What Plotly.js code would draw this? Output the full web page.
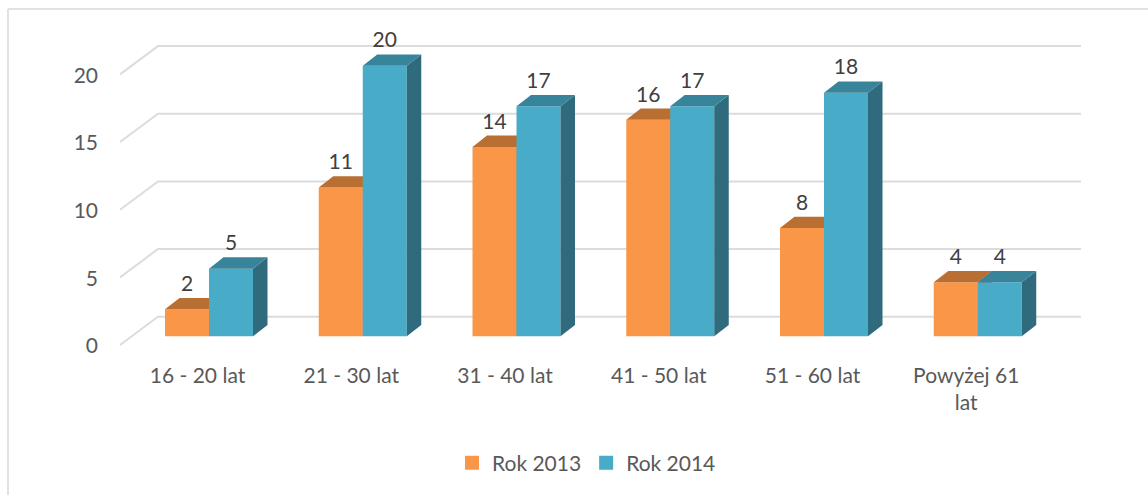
<!DOCTYPE html>
<html><head><meta charset="utf-8">
<script src="https://cdn.plot.ly/plotly-3.0.1.min.js"></script>
<style>html,body{margin:0;padding:0;background:#fff}#c{width:1148px;height:495px}</style>
</head><body><div id="c"></div>
<script>
const categories = ["16 - 20 lat","21 - 30 lat","31 - 40 lat","41 - 50 lat","51 - 60 lat","Powyżej 61<br>lat"];
const rok2013 = [2,11,14,16,8,4];
const rok2014 = [5,20,17,17,18,4];
const gridValues = [0,5,10,15,20];
const nameA = "Rok 2013", nameB = "Rok 2014";

const W=1148,H=495, L=99,R=1100,T=20,B=361;
const pxX=153.75, pxY=13.53, cx0=209, y0=336.3;
const xOf=p=>(p-cx0)/pxX, yOf=p=>(y0-p)/pxY;
const barW=44/pxX, dx=14.5/pxX, dy=11.3/pxY;
const wallDy=yOf(316.7), frontDy=yOf(345), tickDy=yOf(345.8);
const idx=categories.map((_,i)=>i);
const font="Lato, Carlito, sans-serif";
const fs=21;

function topPoly(vals,off){const x=[],y=[];vals.forEach((v,i)=>{const a=i+off,b=a+barW;
  x.push(a,b,b+dx,a+dx,a,null);y.push(v,v,v+dy,v+dy,v,null);});return{x,y};}
function sidePoly(vals,off){const x=[],y=[];vals.forEach((v,i)=>{const b=i+off+barW;
  x.push(b,b+dx,b+dx,b,b,null);y.push(0,dy,v+dy,v,0,null);});return{x,y};}
function face(p,color,z){return{type:"scatter",mode:"lines",x:p.x,y:p.y,fill:"toself",fillcolor:color,
  line:{width:0,color:color},hoverinfo:"skip",showlegend:false,zorder:z};}

const gx=[],gy=[];
gridValues.forEach(v=>{gx.push(xOf(120),xOf(158),xOf(1081),null);gy.push(v+frontDy,v+wallDy,v+wallDy,null);});

const traces=[
 {type:"scatter",mode:"lines",x:gx,y:gy,line:{color:"#dcdcdc",width:2},hoverinfo:"skip",showlegend:false,zorder:0},
 face(sidePoly(rok2013,-barW),"#a85f28",1),
 face(topPoly(rok2013,-barW),"#b96f32",1),
 {type:"bar",x:idx,y:rok2013,width:barW,offset:-barW,marker:{color:"#fa9648",line:{width:0}},showlegend:false,zorder:1,name:nameA},
 face(sidePoly(rok2014,0),"#2f6b7c",2),
 face(topPoly(rok2014,0),"#38849b",2),
 {type:"bar",x:idx,y:rok2014,width:barW,offset:0,marker:{color:"#48acc8",line:{width:0}},showlegend:false,zorder:2,name:nameB},
 {type:"scatter",mode:"text",x:idx.map(i=>i-barW/2),y:rok2013.map(v=>v+1.74),text:rok2013.map(String),textposition:"middle center",
  textfont:{family:font,size:fs,color:"#404040"},showlegend:false,hoverinfo:"skip",zorder:3},
 {type:"scatter",mode:"text",x:idx.map(i=>i+barW/2),y:rok2014.map(v=>v+1.74),text:rok2014.map(String),textposition:"middle center",
  textfont:{family:font,size:fs,color:"#404040"},showlegend:false,hoverinfo:"skip",zorder:3},
 {type:"scatter",mode:"markers",x:[null],y:[null],name:nameA,marker:{symbol:"square",size:14,color:"#fa9648"},zorder:3},
 {type:"scatter",mode:"markers",x:[null],y:[null],name:nameB,marker:{symbol:"square",size:14,color:"#48acc8"},zorder:3}
];

const layout={
 width:W,height:H,paper_bgcolor:"#fff",plot_bgcolor:"rgba(0,0,0,0)",
 margin:{l:L,r:W-R,t:T,b:H-B,pad:0},barmode:"overlay",
 font:{family:font,size:fs,color:"#595959"},
 xaxis:{range:[xOf(L),xOf(R)],tickmode:"array",tickvals:idx.map(i=>i-11.5/pxX),ticktext:categories,
  showgrid:false,zeroline:false,showline:false,ticks:"",tickangle:0,tickfont:{family:font,size:fs,color:"#595959"}},
 yaxis:{range:[yOf(B),yOf(T)],tickmode:"array",tickvals:gridValues.map(v=>v+tickDy),ticktext:gridValues.map(String),
  showgrid:false,zeroline:false,showline:false,ticks:"",tickfont:{family:font,size:fs,color:"#595959"}},
 legend:{orientation:"h",x:(452-L)/(R-L),xanchor:"left",xref:"paper",yref:"container",y:0.023,yanchor:"bottom",
  font:{family:font,size:fs,color:"#595959"},bgcolor:"rgba(0,0,0,0)"},
 shapes:[
  {type:"line",xref:"paper",yref:"paper",x0:(8-L)/(R-L),x1:(8-L)/(R-L),y0:(B-H)/(B-T),y1:(B-9)/(B-T),line:{color:"#d9d9d9",width:1.5}},
  {type:"line",xref:"paper",yref:"paper",x0:(8-L)/(R-L),x1:(W-L)/(R-L),y0:(B-9)/(B-T),y1:(B-9)/(B-T),line:{color:"#d9d9d9",width:1.5}}
 ],
 hovermode:false
};
Plotly.newPlot("c",traces,layout,{displayModeBar:false,staticPlot:true});
</script></body></html>
